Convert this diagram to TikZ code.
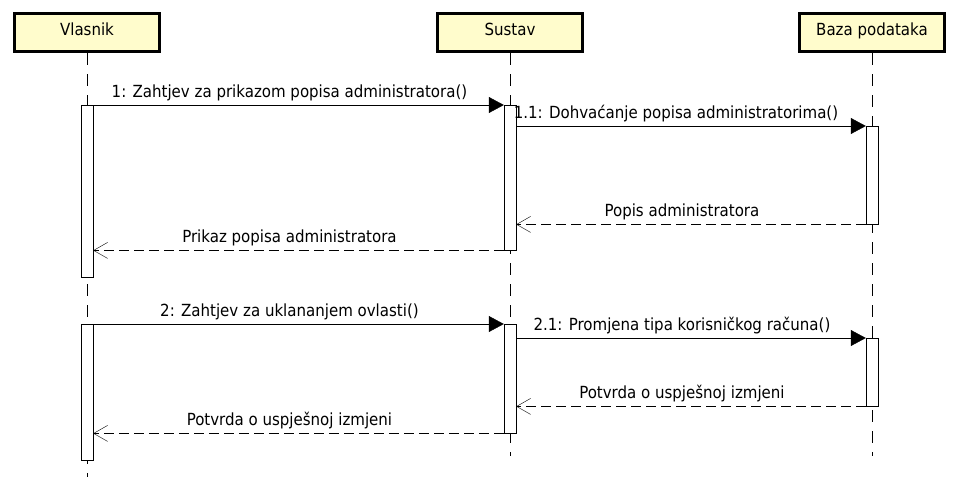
\documentclass[tikz,border=0pt]{standalone}
\usepackage{fontspec}
\setmainfont{DejaVu Sans Condensed}
\usetikzlibrary{arrows.meta}

\tikzstyle{actor} = [rectangle, minimum width=145pt, minimum height=38pt, text depth=7pt, line width=3pt, draw=black, fill=yellow!20]
\tikzstyle{lifeline} = [dash pattern=on 12pt off 9pt]
\tikzstyle{actbar} = [rectangle, minimum width=12pt, inner sep=0pt, anchor=north, draw=black, fill=white]
\tikzstyle{call} = [-{Triangle[length=15pt,width=16pt]}]
\tikzstyle{reply} = [dash pattern=on 10pt off 5pt, -{Straight Barb[length=14pt,width=16pt]}]
\tikzstyle{msg} = [above, inner sep=3.5pt, text depth=4pt, xshift=-9pt]

\begin{document}
\begin{tikzpicture}[x=1pt, y=-1pt, font=\fontsize{16.7}{20}\selectfont]

\useasboundingbox (0,0) rectangle (958,493);

\node (vlasnik) [actor] at (87,32.5) {Vlasnik};
\node (sustav) [actor] at (510,32.5) {Sustav};
\node (baza) [actor] at (872,32.5) {Baza podataka};

\coordinate (vlasnikend) at (87,477);
\coordinate (sustavend) at (510,456);
\coordinate (bazaend) at (872,456);

\draw [lifeline] (vlasnik) -- (vlasnikend);
\draw [lifeline] (sustav) -- (sustavend);
\draw [lifeline] (baza) -- (bazaend);

\node (v1) [actbar, minimum height=172pt] at (87,105) {};
\node (s1) [actbar, minimum height=145pt] at (510,105) {};
\node (b1) [actbar, minimum height=98pt] at (872,126) {};
\node (v2) [actbar, minimum height=136pt] at (87,324) {};
\node (s2) [actbar, minimum height=109pt] at (510,324) {};
\node (b2) [actbar, minimum height=68pt] at (872,338) {};

\draw [call] (v1.north east) -- node[msg] {1: Zahtjev za prikazom popisa administratora()} (s1.north west);
\draw [call] (s1.east |- b1.north) -- node[msg, xshift=-6pt] {1.1: Dohvaćanje popisa administratorima()} (b1.north west);
\draw [reply] (b1.south west) -- node[msg] {Popis administratora} (s1.east |- b1.south);
\draw [reply] (s1.south west) -- node[msg] {Prikaz popisa administratora} (v1.east |- s1.south);

\draw [call] (v2.north east) -- node[msg] {2: Zahtjev za uklananjem ovlasti()} (s2.north west);
\draw [call] (s2.east |- b2.north) -- node[msg] {2.1: Promjena tipa korisničkog računa()} (b2.north west);
\draw [reply] (b2.south west) -- node[msg] {Potvrda o uspješnoj izmjeni} (s2.east |- b2.south);
\draw [reply] (s2.south west) -- node[msg] {Potvrda o uspješnoj izmjeni} (v2.east |- s2.south);

\end{tikzpicture}
\end{document}
